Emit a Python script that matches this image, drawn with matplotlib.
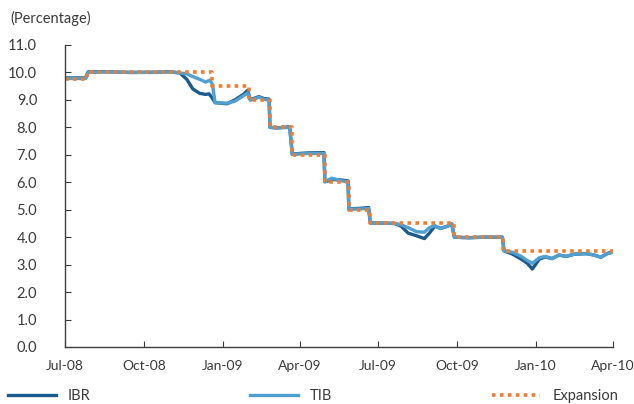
import matplotlib
matplotlib.use("Agg")
import matplotlib.pyplot as plt
import pandas as pd

# IBR (overnight interbank rate)
ibr_dates = ["2008-07-01", "2008-07-25", "2008-07-28", "2008-08-15", "2008-09-15", "2008-10-15",
             "2008-10-31", "2008-11-12", "2008-11-20", "2008-11-27", "2008-12-05", "2008-12-12",
             "2008-12-16", "2008-12-19", "2008-12-23", "2009-01-06", "2009-01-15", "2009-01-25",
             "2009-01-30", "2009-02-02", "2009-02-06", "2009-02-12", "2009-02-18", "2009-02-24",
             "2009-02-25", "2009-03-05", "2009-03-20", "2009-03-23", "2009-04-10", "2009-04-29",
             "2009-04-30", "2009-05-10", "2009-05-20", "2009-05-27", "2009-05-28", "2009-06-10",
             "2009-06-20", "2009-06-22", "2009-07-20", "2009-07-28", "2009-08-05", "2009-08-15",
             "2009-08-24", "2009-08-30", "2009-09-05", "2009-09-12", "2009-09-20", "2009-09-25",
             "2009-09-28", "2009-10-15", "2009-11-01", "2009-11-23", "2009-11-25", "2009-12-05",
             "2009-12-15", "2009-12-22", "2009-12-28", "2010-01-05", "2010-01-12", "2010-01-20",
             "2010-01-28", "2010-02-05", "2010-02-15", "2010-03-01", "2010-03-10", "2010-03-18",
             "2010-03-25", "2010-04-01"]
ibr_values = [9.80, 9.80, 10.02, 10.03, 10.00, 10.01,
              10.03, 9.98, 9.75, 9.40, 9.24, 9.20,
              9.22, 9.10, 8.90, 8.86, 9.00, 9.20,
              9.35, 9.00, 9.05, 9.12, 9.05, 9.03,
              8.00, 7.98, 8.02, 7.03, 7.07, 7.08,
              6.02, 6.10, 6.08, 6.05, 5.03, 5.05,
              5.08, 4.52, 4.50, 4.40, 4.15, 4.05,
              3.95, 4.15, 4.40, 4.32, 4.40, 4.48,
              4.00, 3.98, 4.00, 4.00, 3.50, 3.38,
              3.20, 3.05, 2.84, 3.20, 3.28, 3.22,
              3.35, 3.30, 3.38, 3.40, 3.35, 3.27,
              3.40, 3.47]

# TIB (interbank rate)
tib_dates = ["2008-07-01", "2008-07-25", "2008-07-28", "2008-08-15", "2008-09-15", "2008-10-15",
             "2008-10-31", "2008-11-12", "2008-11-20", "2008-11-27", "2008-12-05", "2008-12-12",
             "2008-12-17", "2008-12-20", "2008-12-23", "2009-01-06", "2009-01-15", "2009-01-25",
             "2009-01-30", "2009-02-02", "2009-02-06", "2009-02-12", "2009-02-18", "2009-02-24",
             "2009-02-25", "2009-03-05", "2009-03-20", "2009-03-23", "2009-04-10", "2009-04-29",
             "2009-04-30", "2009-05-08", "2009-05-20", "2009-05-27", "2009-05-28", "2009-06-10",
             "2009-06-20", "2009-06-22", "2009-07-20", "2009-07-28", "2009-08-05", "2009-08-15",
             "2009-08-24", "2009-08-30", "2009-09-05", "2009-09-12", "2009-09-20", "2009-09-25",
             "2009-09-28", "2009-10-15", "2009-11-01", "2009-11-23", "2009-11-25", "2009-12-05",
             "2009-12-15", "2009-12-22", "2009-12-28", "2010-01-05", "2010-01-12", "2010-01-20",
             "2010-01-28", "2010-02-05", "2010-02-15", "2010-03-01", "2010-03-10", "2010-03-18",
             "2010-03-25", "2010-04-01"]
tib_values = [9.78, 9.78, 10.00, 10.02, 10.00, 10.00,
              10.02, 9.98, 9.95, 9.85, 9.75, 9.65,
              9.72, 9.55, 8.90, 8.88, 8.95, 9.15,
              9.25, 9.00, 9.03, 9.10, 9.02, 9.00,
              8.00, 7.98, 8.00, 7.02, 7.05, 7.05,
              6.02, 6.15, 6.05, 6.02, 5.02, 5.03,
              5.05, 4.52, 4.50, 4.45, 4.35, 4.20,
              4.18, 4.35, 4.42, 4.32, 4.40, 4.48,
              4.00, 3.98, 4.00, 4.00, 3.50, 3.45,
              3.30, 3.15, 3.05, 3.25, 3.30, 3.22,
              3.35, 3.30, 3.38, 3.40, 3.35, 3.27,
              3.40, 3.45]

# Expansion (policy) rate, step changes
exp_dates = ["2008-07-01", "2008-07-27", "2008-12-19", "2009-02-01", "2009-02-25", "2009-03-23",
             "2009-04-30", "2009-05-28", "2009-06-22", "2009-09-28", "2009-11-24", "2010-04-01"]
exp_values = [9.75, 10.00, 9.50, 9.00, 8.00, 7.00,
              6.00, 5.00, 4.50, 4.00, 3.50, 3.50]

tick_dates = ["2008-07-01", "2008-10-01", "2009-01-01", "2009-04-01",
              "2009-07-01", "2009-10-01", "2010-01-01", "2010-04-01"]
tick_labels = ["Jul-08", "Oct-08", "Jan-09", "Apr-09", "Jul-09", "Oct-09", "Jan-10", "Apr-10"]

plt.rcParams['font.family'] = ['Lato', 'DejaVu Sans']
text_col = '#3a3a3a'

fig = plt.figure(figsize=(6.34, 4.04), dpi=100)
ax = fig.add_axes([65/634, 1-347/404, 548/634, 302/404])

ax.plot(pd.to_datetime(ibr_dates), ibr_values, color='#1b5a8c', lw=2.4, label='IBR')
ax.plot(pd.to_datetime(tib_dates), tib_values, color='#4f9fd1', lw=2.4, label='TIB')
ax.plot(pd.to_datetime(exp_dates), exp_values, color='#ed7d31', lw=2.6,
        linestyle=(0, (1, 1.2)), drawstyle='steps-post', label='Expansion')

ax.set_ylim(0, 11)
ax.set_yticks([i for i in range(12)])
ax.set_yticklabels([f"{i:.1f}" for i in range(12)])
ax.set_xlim(pd.Timestamp("2008-07-01"), pd.Timestamp("2010-04-01"))
ax.set_xticks(pd.to_datetime(tick_dates))
ax.set_xticklabels(tick_labels)

for s in ['top', 'right']:
    ax.spines[s].set_visible(False)
for s in ['left', 'bottom']:
    ax.spines[s].set_color('#404040')
    ax.spines[s].set_linewidth(1.0)
ax.tick_params(axis='y', direction='in', length=4, pad=20, labelsize=10.5, colors=text_col)
ax.tick_params(axis='x', direction='in', length=4, pad=9, labelsize=10, colors=text_col)

fig.text(10/634, 1-18/404, '(Percentage)', fontsize=10.5, color=text_col, va='center', ha='left')

fig.legend(loc='center left', bbox_to_anchor=(8/634, 1-396/404, 610/634, 0), mode='expand',
           ncol=3, frameon=False, fontsize=10.5, handlelength=3.3, borderaxespad=0,
           borderpad=0, labelcolor=text_col)

fig.savefig('out.png', dpi=100)
